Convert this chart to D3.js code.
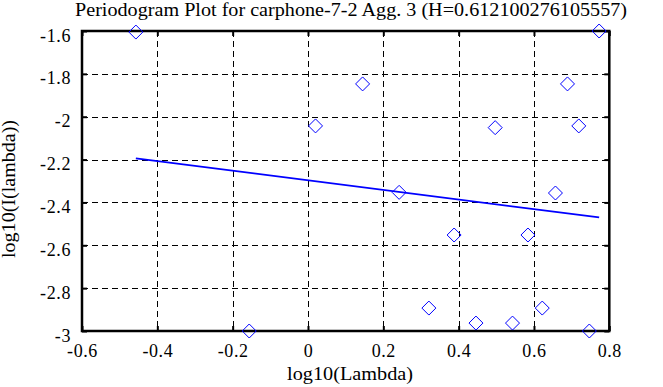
<!DOCTYPE html>
<html>
<head>
<meta charset="utf-8">
<script src="https://cdn.jsdelivr.net/npm/d3@7"></script>
<style>
  html, body { margin: 0; padding: 0; background: #fff; }
  svg { display: block; }
  text { font-family: "Liberation Serif", "Times New Roman", serif; fill: #000; }
</style>
</head>
<body>
<svg id="chart" width="663" height="387"></svg>
<script>
// ---- data ----
const titleText = "Periodogram Plot for carphone-7-2 Agg. 3 (H=0.612100276105557)";
const xLabel = "log10(Lambda)";
const yLabel = "log10(I(lambda))";
const logLambda = [-0.457, -0.156, 0.020, 0.145, 0.242, 0.321, 0.388, 0.446, 0.497, 0.543, 0.584, 0.622, 0.657, 0.689, 0.719, 0.747, 0.773];
const logI      = [-1.605, -3.000, -2.043, -1.847, -2.353, -2.893, -2.552, -2.963, -2.051, -2.963, -2.552, -2.893, -2.356, -1.847, -2.043, -3.000, -1.600];
const fitX = [-0.457, 0.773];
const fitY = [-2.194, -2.470];
const xTicks = [-0.6, -0.4, -0.2, 0, 0.2, 0.4, 0.6, 0.8];
const yTicks = [-3, -2.8, -2.6, -2.4, -2.2, -2, -1.8, -1.6];

// ---- layout ----
const L = 82, R = 609.3, T = 31, B = 331;
const svg = d3.select("#chart");
const x = d3.scaleLinear().domain([-0.6, 0.8]).range([L, R]);
const y = d3.scaleLinear().domain([-3, -1.6]).range([B, T]);

// grid
const grid = svg.append("g").attr("stroke", "#000").attr("stroke-width", 1)
  .attr("stroke-dasharray", "6,4").attr("shape-rendering", "crispEdges");
grid.selectAll("line.gx").data(xTicks.slice(1, -1)).join("line")
  .attr("x1", d => Math.round(x(d)) + 0.5).attr("x2", d => Math.round(x(d)) + 0.5)
  .attr("y1", T).attr("y2", B);
grid.selectAll("line.gy").data(yTicks.slice(1, -1)).join("line")
  .attr("y1", d => Math.round(y(d)) + 0.5).attr("y2", d => Math.round(y(d)) + 0.5)
  .attr("x1", L).attr("x2", R);

// axes
const fmt = d => String(d);
const xAxisB = d3.axisBottom(x).tickValues(xTicks).tickSize(-5).tickPadding(0).tickFormat(fmt);
const xAxisT = d3.axisTop(x).tickValues(xTicks).tickSize(-5).tickFormat("");
const yAxisL = d3.axisLeft(y).tickValues(yTicks).tickSize(-5).tickPadding(11).tickFormat(fmt);
const yAxisR = d3.axisRight(y).tickValues(yTicks).tickSize(-5).tickFormat("");

function style(g) {
  g.select(".domain").remove();
  g.selectAll(".tick line").attr("stroke", "#000").attr("stroke-width", 2);
  g.selectAll(".tick text").attr("font-size", 18).attr("font-family", "Liberation Serif, serif")
    .attr("fill", "#000").attr("letter-spacing", 0.6);
}
svg.append("g").attr("transform", `translate(0,${B})`).call(xAxisB).call(style)
  .selectAll(".tick text").attr("dy", null).attr("y", 26);
svg.append("g").attr("transform", `translate(0,${T})`).call(xAxisT).call(style);
svg.append("g").attr("transform", `translate(${L},0)`).call(yAxisL).call(style)
  .selectAll(".tick text").attr("dy", null).attr("y", 10);
svg.append("g").attr("transform", `translate(${R},0)`).call(yAxisR).call(style);

// box
svg.append("rect").attr("x", L).attr("y", T).attr("width", R - L).attr("height", B - T)
  .attr("fill", "none").attr("stroke", "#000").attr("stroke-width", 2.5);

// regression line
svg.append("line")
  .attr("x1", x(fitX[0])).attr("y1", y(fitY[0]))
  .attr("x2", x(fitX[1])).attr("y2", y(fitY[1]))
  .attr("stroke", "#0000ff").attr("stroke-width", 1.8);

// markers
const s = 7;
svg.append("g").selectAll("path").data(logLambda.map((d, i) => [d, logI[i]])).join("path")
  .attr("d", d => {
    const cx = x(d[0]), cy = y(d[1]);
    return `M${cx},${cy - s}L${cx + s},${cy}L${cx},${cy + s}L${cx - s},${cy}Z`;
  })
  .attr("fill", "none").attr("stroke", "#0000ff").attr("stroke-width", 1);

// titles
svg.append("text").attr("x", 351).attr("y", 16).attr("text-anchor", "middle")
  .attr("font-size", 18).attr("textLength", 552).attr("lengthAdjust", "spacingAndGlyphs").text(titleText);
svg.append("text").attr("x", 350).attr("y", 380).attr("text-anchor", "middle")
  .attr("font-size", 18).attr("textLength", 126).attr("lengthAdjust", "spacingAndGlyphs").text(xLabel);
svg.append("text").attr("transform", `translate(15,189) rotate(-90)`)
  .attr("text-anchor", "middle").attr("font-size", 18).attr("textLength", 138)
  .attr("lengthAdjust", "spacingAndGlyphs").text(yLabel);
</script>
</body>
</html>
